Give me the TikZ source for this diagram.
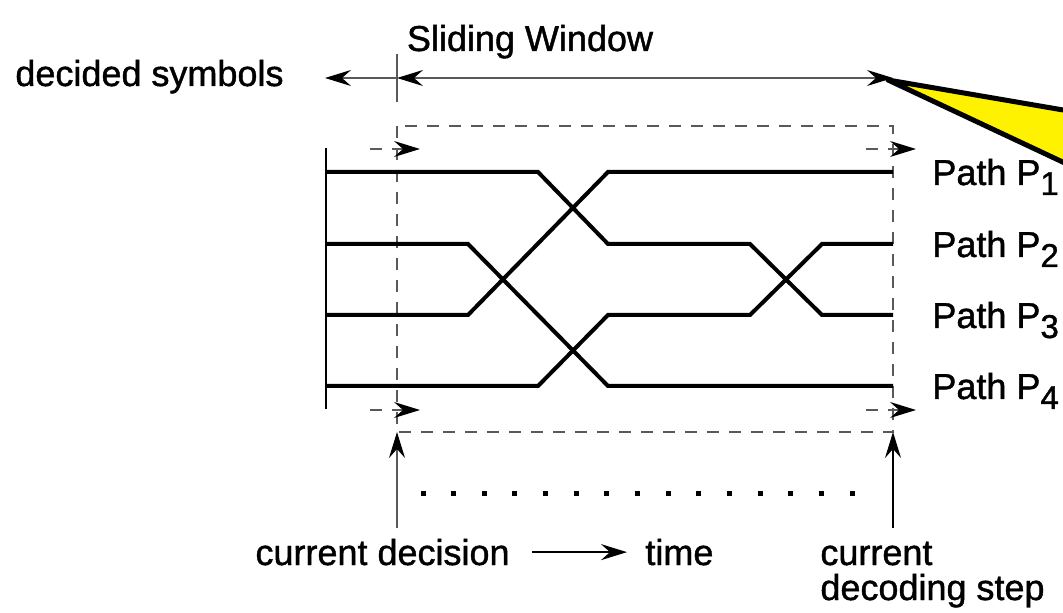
\documentclass[tikz,border=0pt]{standalone}
\usepackage{fontspec}
\setmainfont{Liberation Sans}[FakeBold=1.2]
\usetikzlibrary{arrows.meta}
\newcommand\psub[1]{\raisebox{-5pt}{\fontsize{16.5}{18}\selectfont #1}}
\tikzset{
  wintip/.tip={Stealth[length=13pt,width=8pt,inset=4.5pt,color=black]},
  thinline/.style={line width=0.75pt, draw=black!65},
  winline/.style={thinline, dash pattern=on 6pt off 5pt},
  pathline/.style={line width=2pt, line join=miter},
  lbl/.style={inner sep=0pt, font=\fontsize{18}{21}\selectfont},
}
\begin{document}
\begin{tikzpicture}[x=0.5pt,y=-0.5pt]
\useasboundingbox (0,0) rectangle (1063,613);
% window corners and top marks
\coordinate (wtl) at (397,126); \coordinate (wtr) at (893,126);
\coordinate (wbl) at (397,432); \coordinate (wbr) at (893,432);
\coordinate (dec) at (325,78); \coordinate (wl) at (397,78); \coordinate (wr) at (893,78);
% yellow callout
\begin{scope}
\clip (0,0) rectangle (1063,613);
\draw [line width=2.5pt, fill=yellow, line join=round] (888,80) -- (1250,142) -- (1250,250) -- cycle ;
\end{scope}
\node [lbl, anchor=base] (sw) at (530,51) {Sliding Window};
\node [lbl, anchor=base west] (ds) at (15,86) {decided symbols};
\draw [thinline] (397,54) -- (397,102) ;
\draw [thinline, -wintip] (wl) -- (dec) ;
\draw [thinline, wintip-wintip] (wl) -- (wr) ;
% sliding window
\draw [winline] (wtl) rectangle (wbr) ;
\draw [winline, -wintip] (370,149) -- (420,149) ;
\draw [winline, -wintip] (866,149) -- (916,149) ;
\draw [winline, -wintip] (370,410) -- (420,410) ;
\draw [winline, -wintip] (866,410) -- (916,410) ;
\draw [line width=0.75pt] (326,148) -- (326,409) ;
% survivor paths
\draw [pathline] (325,172) -- (538,172) -- (608,244) -- (750,244) -- (822,315) -- (893,315) ;
\draw [pathline] (325,244) -- (468,244) -- (608,386) -- (893,386) ;
\draw [pathline] (325,315) -- (468,315) -- (608,172) -- (893,172) ;
\draw [pathline] (325,386) -- (538,386) -- (608,315) -- (750,315) -- (822,244) -- (893,244) ;
\foreach \i/\y in {1/172,2/244,3/315,4/386}
  \node [lbl, anchor=base west] (p\i) at (932,\y+13) {Path P\psub{\i}};
% bottom
\foreach \k in {0,...,14}
  \fill (420.5+30.65*\k,490.5) rectangle +(5,5);
\coordinate (cl) at (397,528); \coordinate (cr) at (893,528);
\draw [thinline, -wintip] (cl) -- (wbl) ;
\draw [line width=0.75pt, -wintip] (cr) -- (wbr) ;
\node [lbl, anchor=base east] (cd) at (510,565) {current decision};
\node [lbl, anchor=base west] (tm) at (645,565) {time};
\draw [line width=0.75pt, -wintip, shorten <=11pt, shorten >=9pt] (cd.east) -- (cd.east -| tm.west) ;
\node [lbl, anchor=base west] (cs) at (820,565) {current};
\node [lbl, anchor=base west] (dst) at (820,600) {decoding step};
\end{tikzpicture}
\end{document}
